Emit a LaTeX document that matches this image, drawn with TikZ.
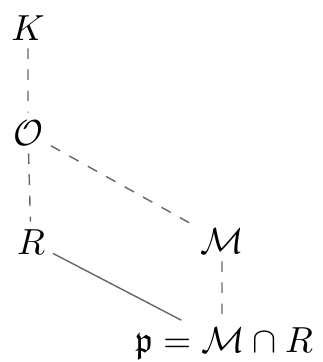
\documentclass[tikz,border=0pt]{standalone}
\usepackage{amssymb}
\usetikzlibrary{calc}
\begin{document}
\begin{tikzpicture}[x=0.01cm,y=-0.01cm,
  lbl/.style={inner sep=2pt, scale=1.03},
  dline/.style={draw=black!60, dashed, line width=0.4pt},
  sline/.style={draw=black!60, line width=0.4pt}]
\useasboundingbox (0,0) rectangle (322,362);
\node[lbl] (K) at (28,28) {$K$};
\node[lbl] (O) at (28,133) {$\mathcal{O}$};
\node[lbl] (R) at (31,242) {$R$};
\node[lbl] (M) at (222,241) {$\mathcal{M}$};
\node[lbl] (p) at (224,344) {$\mathfrak{p} = \mathcal{M} \cap R$};
\coordinate (pin) at ($(p.north west)!0.28!(p.north east)$);
\draw[dline] (K) -- (O);
\draw[dline] (O) -- (R);
\draw[dline] (O) -- (M);
\draw[dline] (M) -- (M |- p.north);
\draw[sline] (R) -- (pin);
\end{tikzpicture}
\end{document}
